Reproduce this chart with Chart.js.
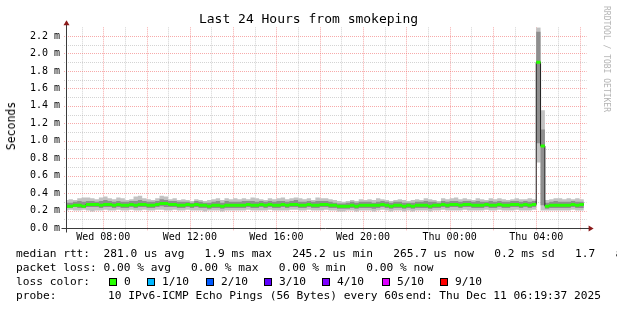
<!DOCTYPE html>
<html>
<head>
<meta charset="utf-8">
<script src="https://cdn.jsdelivr.net/npm/chart.js@4.4.0/dist/chart.umd.min.js"></script>
<style>
  html, body { margin: 0; padding: 0; background: #fff; }
  #wrap { position: relative; width: 617px; height: 310px; overflow: hidden; background: #fff; }
  #wrap canvas { position: absolute; left: 0; top: 0; }
  .txt { position: absolute; font-family: "DejaVu Sans Mono", monospace; white-space: pre; color: #000; }
  .leg { font-size: 11.2px; line-height: 14px; }
  .sw { position: absolute; width: 8px; height: 8px; box-sizing: border-box; border: 1px solid #000; }
</style>
</head>
<body>
<div id="wrap">
  <canvas id="grafico" width="617" height="310"></canvas>
  <div class="txt" style="left:0;top:11px;width:617px;text-align:center;font-size:13px;line-height:16px">Last 24 Hours from smokeping</div>
  <div class="txt" style="left:11px;top:126px;font-size:11.5px;line-height:14px;transform:translate(-50%,-50%) rotate(-90deg)">Seconds</div>
  <div class="txt" style="left:606px;top:59px;font-size:8px;line-height:10px;color:#b4b4b4;transform:translate(-50%,-50%) rotate(90deg)">RRDTOOL / TOBI OETIKER</div>
  <div id="leyenda"></div>
</div>
<script>
// ventana: Wed 06:19:37 -> Thu 06:19:37 (horas desde Wed 00:00)
const horaInicio = 6 + 19 / 60 + 37 / 3600;
const horaFin = horaInicio + 24;
const inicioPaso = 6.2;
const pasoHoras = 0.2;

// marcas del eje de tiempo
const horasEtiqueta = [8, 12, 16, 20, 24, 28];
const textosEtiqueta = ["Wed 08:00", "Wed 12:00", "Wed 16:00", "Wed 20:00", "Thu 00:00", "Thu 04:00"];

// RTT en ms, un valor por paso de 12 min
const mediana = [
  0.25,0.25,0.26,0.26,0.25,0.27,0.27,0.27,0.26,0.27,
  0.27,0.26,0.27,0.26,0.26,0.27,0.26,0.27,0.27,0.26,
  0.26,0.27,0.28,0.28,0.27,0.27,0.26,0.26,0.27,0.26,
  0.27,0.26,0.26,0.25,0.26,0.26,0.25,0.26,0.26,0.26,
  0.26,0.26,0.27,0.26,0.26,0.27,0.26,0.27,0.26,0.26,
  0.27,0.26,0.27,0.27,0.26,0.26,0.27,0.26,0.26,0.27,
  0.27,0.26,0.26,0.25,0.25,0.25,0.26,0.25,0.26,0.26,
  0.26,0.26,0.26,0.27,0.26,0.25,0.26,0.26,0.25,0.26,
  0.25,0.26,0.26,0.26,0.25,0.26,0.26,0.27,0.26,0.27,
  0.27,0.26,0.27,0.27,0.26,0.26,0.26,0.27,0.26,0.26,
  0.27,0.26,0.26,0.27,0.27,0.26,0.27,0.26,0.27,1.90,
  0.94,0.25,0.26,0.26,0.26,0.26,0.26,0.27,0.26,0.27
];
const pingMin = [
  0.20,0.21,0.20,0.20,0.21,0.20,0.19,0.20,0.20,0.21,
  0.20,0.20,0.21,0.20,0.20,0.21,0.20,0.20,0.21,0.20,
  0.20,0.21,0.21,0.20,0.20,0.21,0.20,0.20,0.21,0.20,
  0.20,0.20,0.19,0.20,0.20,0.20,0.19,0.20,0.20,0.20,
  0.20,0.20,0.21,0.20,0.20,0.20,0.20,0.21,0.20,0.20,
  0.20,0.20,0.21,0.21,0.20,0.20,0.21,0.20,0.20,0.20,
  0.21,0.20,0.20,0.19,0.19,0.20,0.20,0.19,0.20,0.20,
  0.20,0.19,0.20,0.21,0.20,0.19,0.20,0.20,0.19,0.20,
  0.19,0.20,0.20,0.20,0.19,0.20,0.20,0.21,0.20,0.20,
  0.20,0.20,0.21,0.20,0.20,0.20,0.20,0.21,0.20,0.20,
  0.21,0.20,0.20,0.20,0.21,0.20,0.20,0.20,0.21,0.75,
  0.20,0.20,0.20,0.20,0.20,0.20,0.20,0.21,0.20,0.20
];
const pingMax = [
  0.32,0.33,0.32,0.34,0.35,0.35,0.34,0.33,0.35,0.36,
  0.34,0.33,0.35,0.34,0.32,0.33,0.36,0.37,0.34,0.33,
  0.32,0.34,0.37,0.36,0.33,0.34,0.32,0.33,0.32,0.31,
  0.33,0.32,0.31,0.32,0.33,0.34,0.32,0.34,0.33,0.34,
  0.33,0.34,0.33,0.35,0.34,0.33,0.32,0.34,0.33,0.34,
  0.35,0.33,0.34,0.35,0.34,0.33,0.34,0.32,0.35,0.34,
  0.34,0.33,0.32,0.31,0.30,0.31,0.32,0.31,0.33,0.32,
  0.33,0.32,0.34,0.33,0.32,0.31,0.32,0.33,0.32,0.31,
  0.32,0.33,0.32,0.34,0.33,0.32,0.31,0.34,0.33,0.34,
  0.35,0.33,0.34,0.33,0.32,0.34,0.33,0.32,0.34,0.33,
  0.34,0.33,0.32,0.33,0.34,0.33,0.33,0.34,0.33,2.30,
  1.35,0.32,0.33,0.34,0.34,0.33,0.34,0.33,0.34,0.33
];
const internoBajo = [
  0.23,0.23,0.24,0.23,0.23,0.24,0.24,0.24,0.23,0.24,
  0.24,0.23,0.24,0.23,0.23,0.24,0.23,0.24,0.24,0.23,
  0.23,0.24,0.25,0.24,0.24,0.24,0.23,0.23,0.24,0.23,
  0.24,0.23,0.23,0.22,0.23,0.23,0.22,0.23,0.23,0.23,
  0.23,0.23,0.24,0.23,0.23,0.24,0.23,0.24,0.23,0.23,
  0.24,0.23,0.24,0.24,0.23,0.23,0.24,0.23,0.23,0.24,
  0.24,0.23,0.23,0.22,0.22,0.22,0.23,0.22,0.23,0.23,
  0.23,0.22,0.23,0.24,0.23,0.22,0.23,0.23,0.22,0.23,
  0.22,0.23,0.23,0.23,0.22,0.23,0.23,0.24,0.23,0.24,
  0.24,0.23,0.24,0.24,0.23,0.23,0.23,0.24,0.23,0.23,
  0.24,0.23,0.23,0.24,0.24,0.23,0.24,0.23,0.24,0.97,
  0.26,0.22,0.23,0.23,0.23,0.23,0.23,0.24,0.23,0.23
];
const internoAlto = [
  0.29,0.29,0.30,0.31,0.30,0.31,0.31,0.30,0.31,0.32,
  0.31,0.30,0.31,0.30,0.30,0.31,0.31,0.32,0.31,0.30,
  0.30,0.31,0.33,0.32,0.31,0.31,0.30,0.30,0.30,0.29,
  0.31,0.30,0.29,0.29,0.30,0.31,0.29,0.31,0.30,0.30,
  0.30,0.31,0.31,0.31,0.30,0.31,0.30,0.31,0.30,0.31,
  0.31,0.30,0.31,0.32,0.30,0.30,0.31,0.30,0.31,0.31,
  0.31,0.30,0.29,0.28,0.28,0.29,0.30,0.29,0.30,0.30,
  0.30,0.29,0.30,0.31,0.30,0.29,0.30,0.30,0.29,0.29,
  0.29,0.30,0.30,0.31,0.30,0.30,0.29,0.31,0.30,0.31,
  0.31,0.30,0.31,0.31,0.30,0.31,0.30,0.30,0.31,0.30,
  0.31,0.30,0.30,0.31,0.31,0.30,0.31,0.30,0.31,2.25,
  1.13,0.29,0.30,0.31,0.30,0.30,0.30,0.31,0.30,0.30
];

// leyenda
const lineaRtt = "median rtt:  281.0 us avg   1.9 ms max   245.2 us min   265.7 us now   0.2 ms sd   1.7   am/as";
const lineaPerdida = "packet loss: 0.00 % avg   0.00 % max   0.00 % min   0.00 % now";
const coloresPerdida = ["#26ff00", "#00b8ff", "#0059ff", "#5e00ff", "#7e00ff", "#dd00ff", "#ff0000"];
const textosPerdida = ["0", "1/10", "2/10", "3/10", "4/10", "5/10", "9/10"];
const posPerdida = [109, 147, 206, 264, 322, 382, 440];
const textoSonda = "10 IPv6-ICMP Echo Pings (56 Bytes) every 60s";
const textoFin = "end: Thu Dec 11 06:19:37 2025";

const leyenda = document.getElementById("leyenda");
function texto(str, x, y, extra) {
  const d = document.createElement("div");
  d.className = "txt leg";
  d.textContent = str;
  d.style.left = x + "px";
  d.style.top = (y - 7) + "px";
  if (extra) Object.assign(d.style, extra);
  leyenda.appendChild(d);
}
texto(lineaRtt, 16, 254);
texto(lineaPerdida, 16, 268);
texto("loss color:", 16, 282);
coloresPerdida.forEach((c, i) => {
  const s = document.createElement("div");
  s.className = "sw";
  s.style.left = posPerdida[i] + "px";
  s.style.top = "278px";
  s.style.background = c;
  leyenda.appendChild(s);
  texto(textosPerdida[i], posPerdida[i] + 15, 282);
});
texto("probe:", 16, 296);
texto(textoSonda, 108, 296);
texto(textoFin, 0, 296, { left: "auto", right: "16px" });

function escalonado(valores) {
  const pts = valores.map((v, i) => ({ x: inicioPaso + i * pasoHoras, y: v }));
  pts.push({ x: inicioPaso + valores.length * pasoHoras, y: valores[valores.length - 1] });
  return pts;
}
function tramos(valores) {
  const pts = [];
  valores.forEach((v, i) => {
    const x0 = inicioPaso + i * pasoHoras;
    pts.push({ x: x0, y: v }, { x: x0 + pasoHoras, y: v }, { x: x0 + pasoHoras, y: null });
  });
  return pts;
}

const fuente = { family: "DejaVu Sans Mono", size: 10 };
const rejaMayor = "rgba(240,100,100,0.55)";
const rejaMenor = "rgba(160,160,160,0.45)";

// rejilla punteada detrás de los datos, como rrdtool
const rejilla = {
  id: "rejilla",
  beforeDatasetsDraw(chart) {
    const { ctx, chartArea: a, scales } = chart;
    ctx.save();
    ctx.lineWidth = 1;
    ctx.setLineDash([1, 1]);
    scales.x.ticks.forEach(t => {
      const px = Math.round(scales.x.getPixelForValue(t.value)) + 0.5;
      ctx.strokeStyle = t.value % 2 === 0 ? rejaMayor : rejaMenor;
      ctx.beginPath();
      ctx.moveTo(px, a.top);
      ctx.lineTo(px, a.bottom + 3);
      ctx.stroke();
    });
    scales.y.ticks.forEach(t => {
      const py = Math.round(scales.y.getPixelForValue(t.value)) + 0.5;
      ctx.strokeStyle = Math.round(t.value * 10) % 2 === 0 ? rejaMayor : rejaMenor;
      ctx.beginPath();
      ctx.moveTo(a.left - 3, py);
      ctx.lineTo(a.right, py);
      ctx.stroke();
    });
    ctx.restore();
  }
};

// ejes con flechas al estilo rrdtool
const ejes = {
  id: "ejes",
  afterDraw(chart) {
    const { ctx, chartArea: a } = chart;
    const yb = Math.round(a.bottom) + 0.5;
    const xl = Math.round(a.left) - 0.5;
    ctx.save();
    ctx.strokeStyle = "#3a3a3a";
    ctx.lineWidth = 1;
    ctx.beginPath();
    ctx.moveTo(xl - 5, yb); ctx.lineTo(a.right + 3, yb);
    ctx.moveTo(xl, yb + 4); ctx.lineTo(xl, a.top - 4);
    ctx.stroke();
    ctx.fillStyle = "#8b1a1a";
    ctx.beginPath();
    ctx.moveTo(xl, a.top - 7); ctx.lineTo(xl - 3, a.top - 2); ctx.lineTo(xl + 3, a.top - 2);
    ctx.closePath(); ctx.fill();
    ctx.beginPath();
    ctx.moveTo(a.right + 7, yb); ctx.lineTo(a.right + 2, yb - 3); ctx.lineTo(a.right + 2, yb + 3);
    ctx.closePath(); ctx.fill();
    ctx.restore();
  }
};

new Chart(document.getElementById("grafico").getContext("2d"), {
  type: "line",
  data: {
    datasets: [
      { data: escalonado(pingMin), stepped: true, borderWidth: 0, pointRadius: 0, fill: false, order: 6 },
      { data: escalonado(pingMax), stepped: true, borderWidth: 0, pointRadius: 0, fill: "-1", backgroundColor: "#c2c2c2", order: 5 },
      { data: escalonado(internoBajo), stepped: true, borderWidth: 0, pointRadius: 0, fill: false, order: 4 },
      { data: escalonado(internoAlto), stepped: true, borderWidth: 0, pointRadius: 0, fill: "-1", backgroundColor: "#8e8e8e", order: 3 },
      { data: escalonado(mediana), stepped: true, borderWidth: 1, borderColor: "#202020", pointRadius: 0, fill: false, order: 2 },
      { data: tramos(mediana), borderWidth: 3, borderColor: coloresPerdida[0], pointRadius: 0, fill: false, spanGaps: false, order: 1 }
    ]
  },
  options: {
    responsive: false,
    animation: false,
    events: [],
    layout: { padding: { left: 0, right: 30.4, top: 27.3, bottom: 0 } },
    plugins: { legend: { display: false }, tooltip: { enabled: false } },
    scales: {
      x: {
        type: "linear",
        min: horaInicio,
        max: horaFin,
        afterFit: s => { s.height = 82; },
        afterBuildTicks: s => {
          const t = [];
          for (let h = Math.ceil(horaInicio); h <= horaFin; h++) t.push({ value: h });
          s.ticks = t;
        },
        grid: { display: false, drawTicks: false },
        border: { display: false },
        ticks: {
          autoSkip: false,
          maxRotation: 0,
          padding: 3,
          color: "#000",
          font: fuente,
          callback: v => {
            const i = horasEtiqueta.indexOf(v);
            return i >= 0 ? textosEtiqueta[i] : "";
          }
        }
      },
      y: {
        min: 0,
        max: 2.3,
        afterFit: s => { s.width = 67; },
        afterBuildTicks: s => {
          const t = [];
          for (let k = 0; k <= 22; k++) t.push({ value: k / 10 });
          s.ticks = t;
        },
        grid: { display: false, drawTicks: false },
        border: { display: false },
        ticks: {
          autoSkip: false,
          padding: 7,
          color: "#000",
          font: fuente,
          callback: v => (Math.round(v * 10) % 2 === 0) ? v.toFixed(1) + " m" : ""
        }
      }
    }
  },
  plugins: [rejilla, ejes]
});
</script>
</body>
</html>
